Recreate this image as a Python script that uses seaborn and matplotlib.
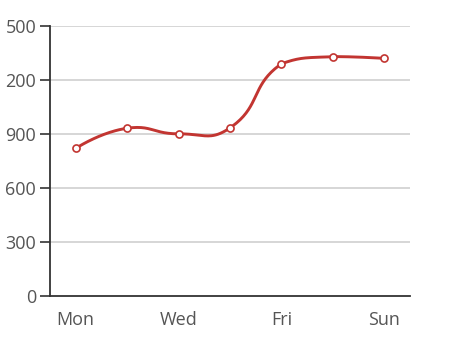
import numpy as np
import pandas as pd
import matplotlib
matplotlib.use("Agg")
import matplotlib.pyplot as plt
import seaborn as sns

days = ["Mon", "Tue", "Wed", "Thu", "Fri", "Sat", "Sun"]
values = [820, 932, 901, 934, 1290, 1330, 1320]
y_ticks = [0, 300, 600, 900, 1200, 1500]
# y tick labels as they appear in the reference (leading digit cut off there)
y_tick_labels = ["0", "300", "600", "900", "200", "500"]
x_label_days = ["Mon", "Wed", "Fri", "Sun"]

sns.set_theme(style="white")
plt.rcParams["font.family"] = ["Open Sans", "DejaVu Sans"]

W, H = 452, 345
fig = plt.figure(figsize=(W / 100, H / 100), dpi=100)
left, right, bottom, top = 50, 410, 296, 26
ax = fig.add_axes([left / W, 1 - bottom / H, (right - left) / W, (bottom - top) / H])

df = pd.DataFrame({"day": days, "value": values})
df["pos"] = np.arange(len(days))

# smooth curve (echarts-like bezier smoothing with bbox constraint, pixel space)
px_x = (right - left) / len(days)
px_y = (bottom - top) / (y_ticks[-1] - y_ticks[0])
P = np.column_stack([df["pos"].values * px_x, np.array(values, float) * px_y])
n = len(P)
smooth = 0.5
lo, hi = P.min(axis=0), P.max(axis=0)
cps = []
for i in range(n):
    p1 = P[i]
    if i == 0 or i == n - 1:
        cps.append((p1.copy(), p1.copy()))
        continue
    p0, p2 = P[i - 1], P[i + 1]
    v = (p2 - p0) * smooth
    d0 = np.linalg.norm(p1 - p0)
    d1 = np.linalg.norm(p2 - p1)
    s = d0 + d1
    if s > 0:
        d0, d1 = d0 / s, d1 / s
    c0 = np.clip(p1 - v * d0, lo, hi)
    c1 = np.clip(p1 + v * d1, lo, hi)
    cps.append((c0, c1))
curve = []
t = np.linspace(0, 1, 40)[:, None]
for i in range(n - 1):
    a, b = P[i], P[i + 1]
    c1, c2 = cps[i][1], cps[i + 1][0]
    seg = (1 - t) ** 3 * a + 3 * (1 - t) ** 2 * t * c1 + 3 * (1 - t) * t ** 2 * c2 + t ** 3 * b
    curve.append(seg if i == 0 else seg[1:])
curve = np.vstack(curve)
curve_df = pd.DataFrame({"x": curve[:, 0] / px_x, "y": curve[:, 1] / px_y})

red = "#c23531"
sns.lineplot(data=curve_df, x="x", y="y", sort=False, estimator=None,
             color=red, linewidth=2.1, ax=ax, zorder=3)
sns.scatterplot(data=df, x="pos", y="value", s=26, color="white",
                edgecolor=red, linewidth=1.2, ax=ax, zorder=4)

ax.set_xlim(-0.5, len(days) - 0.5)
ax.set_ylim(y_ticks[0], y_ticks[-1])
ax.set_xlabel("")
ax.set_ylabel("")

label_pos = [days.index(d) for d in x_label_days]
ax.set_xticks(label_pos)
ax.set_xticklabels(x_label_days)
ax.set_xticks([1, 3, 5], minor=True)
ax.tick_params(axis="x", which="major", length=0, pad=11, labelsize=13, labelcolor="#555")
ax.tick_params(axis="x", which="minor", length=7, width=1.2, color="#333", direction="out")

ax.set_yticks(y_ticks)
ax.set_yticklabels(y_tick_labels)
ax.tick_params(axis="y", which="major", length=7, width=1.2, color="#333",
               pad=3, labelsize=13, labelcolor="#555", left=True)

for yv in y_ticks[1:]:
    ax.axhline(yv, color="#cccccc", linewidth=1.1, zorder=1)

for s in ["top", "right"]:
    ax.spines[s].set_visible(False)
for s in ["left", "bottom"]:
    ax.spines[s].set_color("#333333")
    ax.spines[s].set_linewidth(1.3)
ax.grid(False)

fig.savefig("out.png", dpi=100)
